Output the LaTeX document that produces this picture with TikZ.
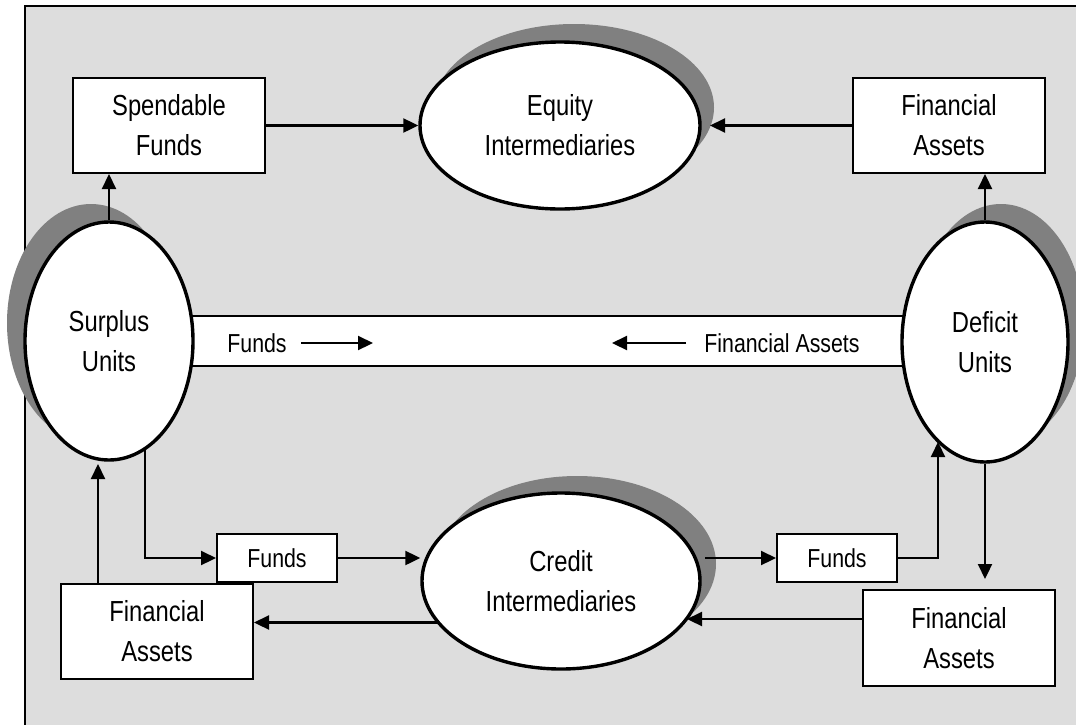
\documentclass[tikz,border=0pt]{standalone}
\usepackage{fontspec}
\setmainfont{Liberation Sans}[FakeStretch=0.82]
\usetikzlibrary{arrows.meta,calc,shapes.geometric}
\definecolor{bggray}{RGB}{221,221,221}
\definecolor{shgray}{RGB}{128,128,128}
\pgfdeclarelayer{bg}
\pgfdeclarelayer{mid}
\pgfsetlayers{bg,mid,main}
\begin{document}
\begin{tikzpicture}[x=1pt,y=-1pt,
  big/.style={font=\fontsize{29}{40}\selectfont, align=center},
  small/.style={font=\fontsize{26}{30}\selectfont},
  box/.style={draw, line width=2pt, fill=white, inner sep=0pt},
  oval/.style={ellipse, draw, line width=3.4pt, fill=white, inner sep=0pt, big},
  shadowoval/.style={ellipse, fill=shgray, inner sep=0pt},
  arr/.style={line width=2.2pt, -{Triangle[length=15pt,width=14pt]}},
  lane/.style={line width=2pt}]
\useasboundingbox (0,0) rectangle (1076,724);
% background frame
\begin{pgfonlayer}{bg}
  \fill[bggray] (25,6) rectangle (1100,750);
  \draw[line width=2pt] (25,750) -- (25,6) -- (1100,6);
\end{pgfonlayer}
% channel band
\begin{pgfonlayer}{mid}
  \fill[white] (150,316) rectangle (950,366);
  \draw[lane] (150,316) -- (950,316);
  \draw[line width=1.5pt] (150,366) -- (950,366);
\end{pgfonlayer}
% shadows
\node[shadowoval, minimum width=168, minimum height=238] (surplusSh) at (91,323) {};
\node[shadowoval, minimum width=166, minimum height=240] (deficitSh) at (1001,324) {};
\node[shadowoval, minimum width=280, minimum height=167] (equitySh) at (574,107.5) {};
\node[shadowoval, minimum width=278, minimum height=176] (creditSh) at (577,564) {};
% ellipses
\node[oval, minimum width=168, minimum height=238] (surplus) at (109,341) {Surplus\\Units};
\node[oval, minimum width=166, minimum height=240] (deficit) at (985,342) {Deficit\\Units};
\node[oval, minimum width=280, minimum height=167] (equity) at (560,125.5) {Equity\\Intermediaries};
\node[oval, minimum width=278, minimum height=176] (credit) at (561,581) {Credit\\Intermediaries};
% boxes
\node[box, big, minimum width=192, minimum height=95] (spend) at (169,125.5) {Spendable\\Funds};
\node[box, big, minimum width=192, minimum height=95] (fatr) at (949,125.5) {Financial\\Assets};
\node[box, big, minimum width=192, minimum height=95] (fabl) at (157,631.5) {Financial\\Assets};
\node[box, big, minimum width=192, minimum height=96] (fabr) at (959,638) {Financial\\Assets};
\node[box, small, minimum width=120, minimum height=48] (fundsL) at (277,558) {Funds};
\node[box, small, minimum width=120, minimum height=48] (fundsR) at (837,558) {Funds};
% channel labels
\node[small, inner sep=0pt] (chF) at (257,343) {Funds};
\node[small, inner sep=0pt] (chA) at (782,343) {Financial Assets};
\coordinate (fA1) at (301,343);
\coordinate (fA2) at (373,343);
\coordinate (fB1) at (686,343);
\coordinate (fB2) at (612,343);
\draw[arr] (fA1) -- (fA2);
\draw[arr] (fB1) -- (fB2);
% top connectors
\draw[arr] (surplus.north) -- (surplus.north |- spend.south);
\draw[arr] (spend.east) -- (equity.west);
\coordinate (eqR) at (710,125.5);
\draw[arr] (fatr.west) -- (eqR);
\draw[arr] (deficit.north) -- (deficit.north |- fatr.south);
% bottom connectors
\coordinate (sOut) at (145,420);
\coordinate (cL) at (470,622.5);
\begin{pgfonlayer}{mid}
  \draw[arr] (sOut) |- (fundsL.west);
  \draw[arr] (cL) -- (cL -| fabl.east);
\end{pgfonlayer}
\draw[arr] (fundsL.east) -- (fundsL.east -| credit.west);
\coordinate (sIn) at (98,464);
\draw[arr] (fabl.north -| sIn) -- (sIn);
\coordinate (cR) at (705,558);
\draw[arr] (cR) -- (fundsR.west);
\coordinate (dIn) at (938,442);
\draw[arr] (fundsR.east) -| (dIn);
\draw[arr] (deficit.south) -- ($(deficit.south |- fabr.north)+(0,-10)$);
\coordinate (cIn) at (687,619);
\draw[arr] (cIn -| fabr.west) -- (cIn);
\end{tikzpicture}
\end{document}
